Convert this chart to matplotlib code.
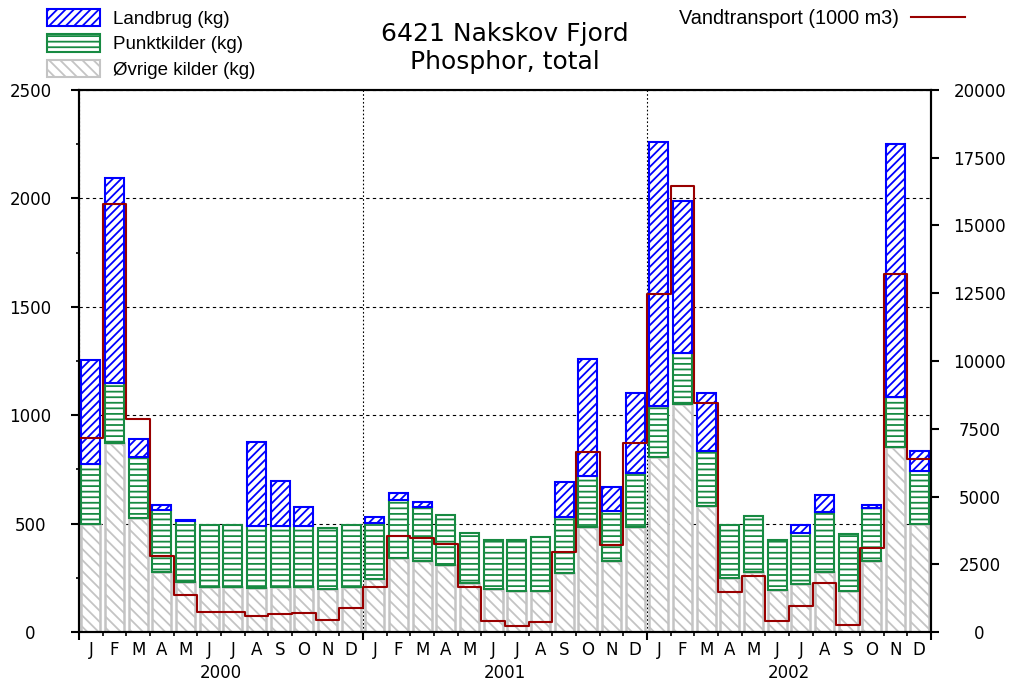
''' stacked monthly phosphorus load with water transport, 6421 Nakskov Fjord
'''
import numpy as np
import matplotlib
import matplotlib.pyplot as plt
import matplotlib.ticker as mtick
from matplotlib.patches import Patch
from matplotlib.lines import Line2D

matplotlib.use('Agg')

MONTHS = ['J', 'F', 'M', 'A', 'M', 'J', 'J', 'A', 'S', 'O', 'N', 'D']
YEARS = ['2000', '2001', '2002']

# kg per month (2000, 2001, 2002)
ovrige = [498, 870, 524, 278, 232, 209, 209, 201, 206, 209, 197, 209,
          243, 340, 329, 309, 225, 197, 190, 190, 274, 483, 329, 486,
          805, 1052, 583, 248, 278, 196, 220, 278, 188, 327, 854, 500]
punkt = [277, 280, 282, 285, 280, 285, 285, 289, 284, 281, 281, 285,
         258, 269, 249, 231, 233, 227, 234, 247, 255, 237, 231, 246,
         236, 235, 250, 244, 258, 228, 236, 275, 266, 244, 231, 243]
landbrug = [480, 945, 83, 24, 3, 0, 0, 385, 208, 85, 0, 0,
            28, 31, 20, 0, 0, 0, 0, 0, 164, 539, 110, 370,
            1217, 702, 268, 0, 0, 0, 36, 79, 0, 15, 1166, 90]

# 1000 m3 per month, last value is the start of jan 2003 (clipped)
vandtransport = [7150, 15800, 7850, 2800, 1350, 750, 750, 590, 680, 710, 440, 900,
                 1670, 3540, 3460, 3250, 1670, 420, 220, 360, 2950, 6650, 3210, 6990,
                 12460, 16450, 8450, 1470, 2050, 420, 970, 1790, 240, 3100, 13200, 6370,
                 7950]

BLUE = '#0000ff'
GREEN = '#178a42'
GREY = '#c4c4c4'
RED = '#990000'
TICK_SIZE = 12

plt.rcParams['font.family'] = 'DejaVu Sans'
plt.rcParams['hatch.linewidth'] = 1.3

ovrige = np.array(ovrige)
punkt = np.array(punkt)
landbrug = np.array(landbrug)
n = len(ovrige)
x = np.arange(n) + 0.5
width = 0.8

fig = plt.figure(figsize=(10.14, 6.81), dpi=100)
ax = fig.add_axes([79 / 1014, 49 / 681, 852 / 1014, 542 / 681])

ax.bar(x, ovrige, width, color='white', edgecolor=GREY, hatch='\\\\\\',
       linewidth=np.where(ovrige > 0, 1.8, 0))
ax.bar(x, punkt, width, bottom=ovrige, color='white', edgecolor=GREEN, hatch='---',
       linewidth=np.where(punkt > 0, 1.5, 0))
ax.bar(x, landbrug, width, bottom=ovrige + punkt, color='white', edgecolor=BLUE,
       hatch='////', linewidth=np.where(landbrug > 0, 1.5, 0))

ax.set_xlim(0, n)
ax.set_ylim(0, 2500)
ax.yaxis.set_major_locator(mtick.MultipleLocator(500))
ax.yaxis.set_minor_locator(mtick.MultipleLocator(250))
ax.xaxis.set_major_locator(mtick.MultipleLocator(12))
ax.xaxis.set_minor_locator(mtick.MultipleLocator(1))
ax.xaxis.set_major_formatter(mtick.NullFormatter())
ax.set_axisbelow(True)
ax.grid(axis='y', which='major', color='black', linestyle=(0, (3, 3)), linewidth=0.8)
ax.grid(axis='x', which='major', color='black', linestyle=(0, (1.5, 2)), linewidth=0.8)

for lbl in ax.get_yticklabels():
    lbl.set_horizontalalignment('center')
ax.tick_params(axis='y', which='major', length=6, width=1.5, pad=29, labelsize=TICK_SIZE)
ax.tick_params(axis='y', which='minor', length=2.5, width=1.2)
ax.tick_params(axis='x', which='major', length=6, width=1.5)
ax.tick_params(axis='x', which='minor', length=3, width=1.2)
for sp in ax.spines.values():
    sp.set_linewidth(1.5)

# month letters and years under the axis
for i, m in enumerate(MONTHS * len(YEARS)):
    ax.text(x[i], -0.034, m, transform=ax.get_xaxis_transform(), ha='center', va='center',
            fontsize=TICK_SIZE)
for k, yr in enumerate(YEARS):
    ax.text(12 * k + 6, -0.075, yr, transform=ax.get_xaxis_transform(), ha='center',
            va='center', fontsize=TICK_SIZE)

# water transport on right axis
ax2 = ax.twinx()
ax2.step(np.arange(n + 1), vandtransport, where='post', color=RED, linewidth=1.5)
ax2.set_ylim(0, 20000)
ax2.yaxis.set_major_locator(mtick.MultipleLocator(2500))
ax2.tick_params(axis='y', length=6, width=1.5, pad=29, labelsize=TICK_SIZE)
for lbl in ax2.get_yticklabels():
    lbl.set_horizontalalignment('center')
for sp in ax2.spines.values():
    sp.set_linewidth(1.5)

fig.text(0.498, 0.929, '6421 Nakskov Fjord\nPhosphor, total', ha='center', va='center',
         fontsize=18, linespacing=1.2)

handles = [Patch(facecolor='white', edgecolor=BLUE, hatch='////', linewidth=1.5),
           Patch(facecolor='white', edgecolor=GREEN, hatch='---', linewidth=1.5),
           Patch(facecolor='white', edgecolor=GREY, hatch='\\\\\\', linewidth=1.5)]
fig.legend(handles, ['Landbrug (kg)', 'Punktkilder (kg)', 'Øvrige kilder (kg)'],
           loc='upper left', bbox_to_anchor=(47 / 1014, 1 - 9 / 681), frameon=False,
           borderpad=0, borderaxespad=0, handlelength=2.8, handleheight=1.05,
           handletextpad=0.72, labelspacing=0.33,
           prop={'family': 'Liberation Sans', 'size': 13.5})
fig.legend([Line2D([], [], color=RED, linewidth=1.5)], ['Vandtransport (1000 m3)'],
           loc='upper right', bbox_to_anchor=(965 / 1014, 1 - 9 / 681), frameon=False,
           borderpad=0, borderaxespad=0, handlelength=2.7, handletextpad=0.6,
           markerfirst=False, prop={'family': 'Liberation Sans', 'size': 14.3})

fig.savefig('out.png', dpi=100)
plt.close(fig)
